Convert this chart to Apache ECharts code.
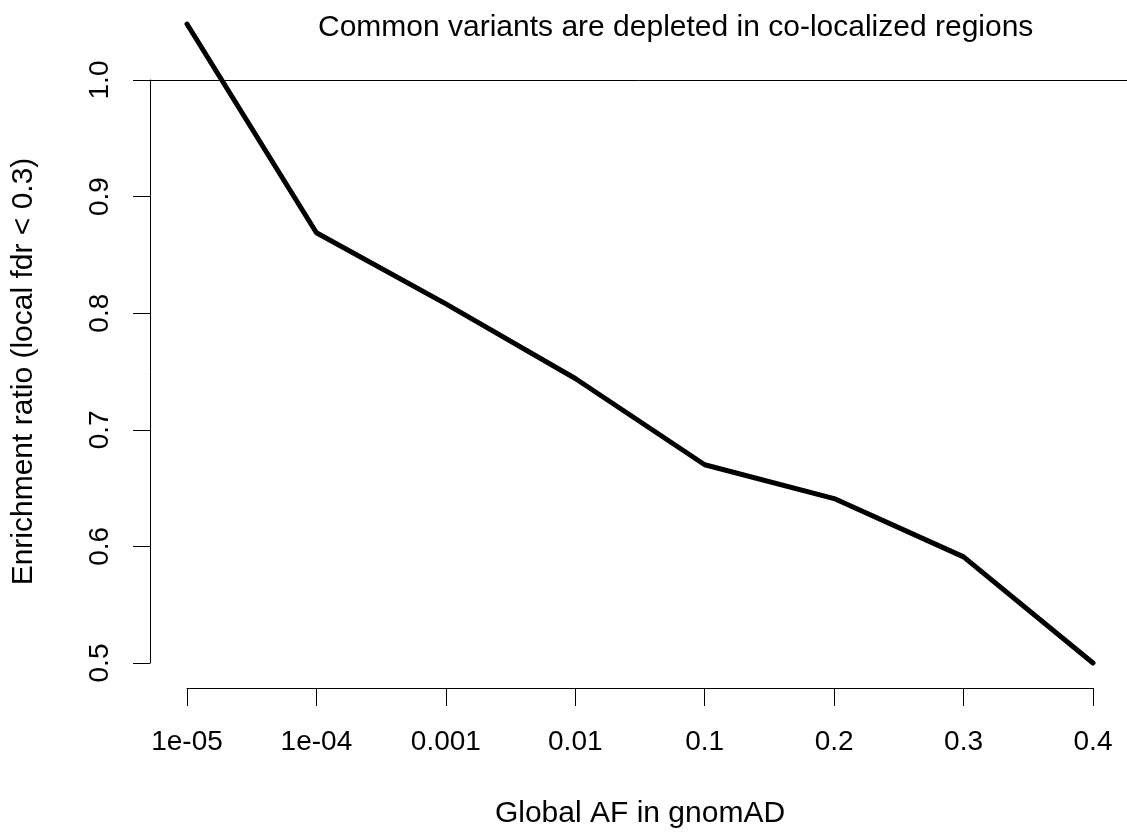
<!DOCTYPE html>
<html>
<head>
<meta charset="utf-8">
<script src="https://cdn.jsdelivr.net/npm/echarts@6/dist/echarts.min.js"></script>
<style>
  html, body { margin: 0; padding: 0; background: #fff; }
  #main { width: 1127px; height: 835px; }
</style>
</head>
<body>
<div id="main"></div>
<script>
// data
const categories = ['1e-05', '1e-04', '0.001', '0.01', '0.1', '0.2', '0.3', '0.4'];
const ratio = [1.048, 0.869, 0.808, 0.744, 0.670, 0.641, 0.591, 0.500];
const yTicks = [0.5, 0.6, 0.7, 0.8, 0.9, 1.0];
const refLine = 1.0;

const font = "'Liberation Sans', Arial, Helvetica, sans-serif";
const chart = echarts.init(document.getElementById('main'));

const option = {
  backgroundColor: '#fff',
  animation: false,
  title: {
    text: 'Common variants are depleted in co-localized regions',
    left: 313,
    top: 8,
    textStyle: { fontFamily: font, fontSize: 30, fontWeight: 'normal', color: '#000' }
  },
  grid: [
    { left: 187, right: 34, top: 80, bottom: 172 },
    // wider grid only for the reference line, which spans the plot region
    { left: 150, right: 0, top: 80, bottom: 172 }
  ],
  xAxis: [
    {
      type: 'category',
      gridIndex: 0,
      data: categories,
      boundaryGap: false,
      offset: 25,
      name: 'Global AF in gnomAD',
      nameLocation: 'middle',
      nameGap: 111,
      nameTextStyle: { fontFamily: font, fontSize: 30, color: '#000' },
      axisLine: { lineStyle: { color: '#000', width: 1 } },
      axisTick: { length: 18, alignWithLabel: true, lineStyle: { color: '#000', width: 1 } },
      axisLabel: { margin: 40, fontFamily: font, fontSize: 28, color: '#000' },
      splitLine: { show: false }
    },
    { type: 'value', gridIndex: 1, min: 0, max: 1, show: false }
  ],
  yAxis: [
    {
      type: 'value',
      gridIndex: 0,
      min: yTicks[0],
      max: yTicks[yTicks.length - 1],
      interval: 0.1,
      offset: 37,
      name: 'Enrichment ratio (local fdr < 0.3)',
      nameLocation: 'middle',
      nameRotate: 90,
      nameGap: 111,
      nameTextStyle: { fontFamily: font, fontSize: 30, color: '#000' },
      axisLine: { show: true, lineStyle: { color: '#000', width: 1 } },
      axisTick: { show: true, length: 17, lineStyle: { color: '#000', width: 1 } },
      axisLabel: {
        rotate: 90,
        margin: 36,
        fontFamily: font,
        fontSize: 28,
        color: '#000',
        formatter: v => v.toFixed(1)
      },
      splitLine: { show: false }
    },
    { type: 'value', gridIndex: 1, min: yTicks[0], max: yTicks[yTicks.length - 1], show: false }
  ],
  series: [
    {
      type: 'line',
      xAxisIndex: 0,
      yAxisIndex: 0,
      data: ratio,
      clip: false,
      symbol: 'none',
      lineStyle: { color: '#000', width: 5, cap: 'round', join: 'round' }
    },
    {
      type: 'line',
      xAxisIndex: 1,
      yAxisIndex: 1,
      data: [],
      markLine: {
        silent: true,
        symbol: ['none', 'none'],
        label: { show: false },
        lineStyle: { color: '#000', width: 1, type: 'solid' },
        data: [{ yAxis: refLine }]
      }
    }
  ]
};

chart.setOption(option);
</script>
</body>
</html>
